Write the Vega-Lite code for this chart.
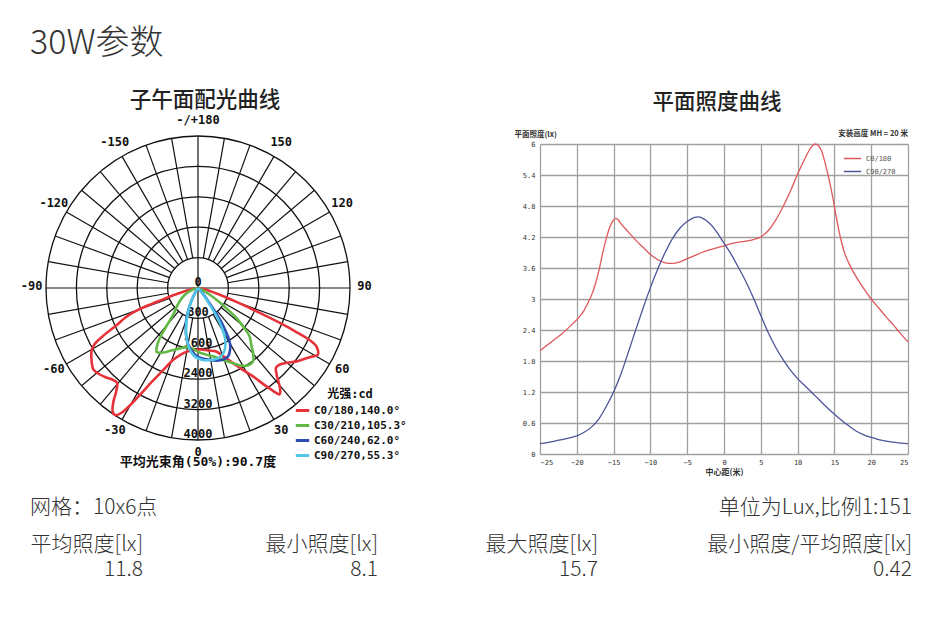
{
  "$schema": "https://vega.github.io/schema/vega-lite/v6.json",
  "background": "white",
  "padding": {"left": 20, "top": 27, "right": 5, "bottom": 5},
  "title": {"text": "30W参数", "anchor": "start", "frame": "group", "font": "Noto Sans CJK SC", "fontSize": 34, "fontWeight": 300, "color": "#333333", "offset": 29},
  "config": {"view": {"stroke": null}, "axis": {"labelOverlap": false}},
  "datasets": {
    "polar": [
      {"s": "C0/180,140.0°", "g": -90, "cd": 0}, {"s": "C0/180,140.0°", "g": -84, "cd": 60}, {"s": "C0/180,140.0°", "g": -80, "cd": 150}, {"s": "C0/180,140.0°", "g": -76, "cd": 380}, {"s": "C0/180,140.0°", "g": -73.5, "cd": 700}, {"s": "C0/180,140.0°", "g": -72, "cd": 950}, {"s": "C0/180,140.0°", "g": -71, "cd": 1300}, {"s": "C0/180,140.0°", "g": -70, "cd": 1650}, {"s": "C0/180,140.0°", "g": -68, "cd": 2050}, {"s": "C0/180,140.0°", "g": -65.5, "cd": 2350}, {"s": "C0/180,140.0°", "g": -63.5, "cd": 2750}, {"s": "C0/180,140.0°", "g": -61.5, "cd": 3100}, {"s": "C0/180,140.0°", "g": -59.5, "cd": 3250}, {"s": "C0/180,140.0°", "g": -56, "cd": 3380}, {"s": "C0/180,140.0°", "g": -52, "cd": 3490}, {"s": "C0/180,140.0°", "g": -49, "cd": 3450}, {"s": "C0/180,140.0°", "g": -46, "cd": 3380}, {"s": "C0/180,140.0°", "g": -43, "cd": 3300}, {"s": "C0/180,140.0°", "g": -40.5, "cd": 3280}, {"s": "C0/180,140.0°", "g": -38.5, "cd": 3450}, {"s": "C0/180,140.0°", "g": -36.5, "cd": 3750}, {"s": "C0/180,140.0°", "g": -34.5, "cd": 3960}, {"s": "C0/180,140.0°", "g": -33, "cd": 3990}, {"s": "C0/180,140.0°", "g": -31.5, "cd": 3850}, {"s": "C0/180,140.0°", "g": -30, "cd": 3550}, {"s": "C0/180,140.0°", "g": -28.5, "cd": 3200}, {"s": "C0/180,140.0°", "g": -26, "cd": 2720}, {"s": "C0/180,140.0°", "g": -23, "cd": 2350}, {"s": "C0/180,140.0°", "g": -19, "cd": 2000}, {"s": "C0/180,140.0°", "g": -15, "cd": 1830}, {"s": "C0/180,140.0°", "g": -10, "cd": 1700}, {"s": "C0/180,140.0°", "g": -5, "cd": 1650}, {"s": "C0/180,140.0°", "g": 0, "cd": 1620}, {"s": "C0/180,140.0°", "g": 5, "cd": 1630}, {"s": "C0/180,140.0°", "g": 10, "cd": 1670}, {"s": "C0/180,140.0°", "g": 16, "cd": 1740}, {"s": "C0/180,140.0°", "g": 20, "cd": 1900}, {"s": "C0/180,140.0°", "g": 25, "cd": 2180}, {"s": "C0/180,140.0°", "g": 29, "cd": 2480}, {"s": "C0/180,140.0°", "g": 32, "cd": 2750}, {"s": "C0/180,140.0°", "g": 34.5, "cd": 3100}, {"s": "C0/180,140.0°", "g": 36.3, "cd": 3380}, {"s": "C0/180,140.0°", "g": 37.5, "cd": 3530}, {"s": "C0/180,140.0°", "g": 38.5, "cd": 3480}, {"s": "C0/180,140.0°", "g": 40, "cd": 3330}, {"s": "C0/180,140.0°", "g": 42, "cd": 3100}, {"s": "C0/180,140.0°", "g": 44.5, "cd": 2930}, {"s": "C0/180,140.0°", "g": 47, "cd": 2950}, {"s": "C0/180,140.0°", "g": 50, "cd": 3060}, {"s": "C0/180,140.0°", "g": 53, "cd": 3220}, {"s": "C0/180,140.0°", "g": 56, "cd": 3350}, {"s": "C0/180,140.0°", "g": 58.5, "cd": 3470}, {"s": "C0/180,140.0°", "g": 60.8, "cd": 3610}, {"s": "C0/180,140.0°", "g": 62.5, "cd": 3560}, {"s": "C0/180,140.0°", "g": 64, "cd": 3450}, {"s": "C0/180,140.0°", "g": 65, "cd": 3250}, {"s": "C0/180,140.0°", "g": 66, "cd": 2800}, {"s": "C0/180,140.0°", "g": 67, "cd": 2300}, {"s": "C0/180,140.0°", "g": 68.5, "cd": 1560}, {"s": "C0/180,140.0°", "g": 70.5, "cd": 1000}, {"s": "C0/180,140.0°", "g": 72.8, "cd": 600}, {"s": "C0/180,140.0°", "g": 76, "cd": 320}, {"s": "C0/180,140.0°", "g": 80, "cd": 150}, {"s": "C0/180,140.0°", "g": 85, "cd": 50}, {"s": "C0/180,140.0°", "g": 90, "cd": 0},
      {"s": "C30/210,105.3°", "g": -90, "cd": 0}, {"s": "C30/210,105.3°", "g": -78, "cd": 60}, {"s": "C30/210,105.3°", "g": -70, "cd": 200}, {"s": "C30/210,105.3°", "g": -65, "cd": 330}, {"s": "C30/210,105.3°", "g": -58, "cd": 500}, {"s": "C30/210,105.3°", "g": -51, "cd": 680}, {"s": "C30/210,105.3°", "g": -47, "cd": 800}, {"s": "C30/210,105.3°", "g": -43, "cd": 950}, {"s": "C30/210,105.3°", "g": -40, "cd": 1250}, {"s": "C30/210,105.3°", "g": -38, "cd": 1560}, {"s": "C30/210,105.3°", "g": -35.5, "cd": 1850}, {"s": "C30/210,105.3°", "g": -33, "cd": 2000}, {"s": "C30/210,105.3°", "g": -31, "cd": 1990}, {"s": "C30/210,105.3°", "g": -28, "cd": 1920}, {"s": "C30/210,105.3°", "g": -24, "cd": 1810}, {"s": "C30/210,105.3°", "g": -20, "cd": 1720}, {"s": "C30/210,105.3°", "g": -15, "cd": 1630}, {"s": "C30/210,105.3°", "g": -10, "cd": 1580}, {"s": "C30/210,105.3°", "g": -5, "cd": 1600}, {"s": "C30/210,105.3°", "g": 0, "cd": 1680}, {"s": "C30/210,105.3°", "g": 5, "cd": 1740}, {"s": "C30/210,105.3°", "g": 10, "cd": 1810}, {"s": "C30/210,105.3°", "g": 15, "cd": 1890}, {"s": "C30/210,105.3°", "g": 20, "cd": 2030}, {"s": "C30/210,105.3°", "g": 24, "cd": 2150}, {"s": "C30/210,105.3°", "g": 28, "cd": 2300}, {"s": "C30/210,105.3°", "g": 31, "cd": 2390}, {"s": "C30/210,105.3°", "g": 34, "cd": 2430}, {"s": "C30/210,105.3°", "g": 37, "cd": 2410}, {"s": "C30/210,105.3°", "g": 40, "cd": 2260}, {"s": "C30/210,105.3°", "g": 43, "cd": 2060}, {"s": "C30/210,105.3°", "g": 47, "cd": 1850}, {"s": "C30/210,105.3°", "g": 50, "cd": 1510}, {"s": "C30/210,105.3°", "g": 52, "cd": 1280}, {"s": "C30/210,105.3°", "g": 54, "cd": 1000}, {"s": "C30/210,105.3°", "g": 56.5, "cd": 690}, {"s": "C30/210,105.3°", "g": 60, "cd": 380}, {"s": "C30/210,105.3°", "g": 65, "cd": 150}, {"s": "C30/210,105.3°", "g": 72, "cd": 40}, {"s": "C30/210,105.3°", "g": 90, "cd": 0},
      {"s": "C60/240,62.0°", "g": -45, "cd": 0}, {"s": "C60/240,62.0°", "g": -35, "cd": 80}, {"s": "C60/240,62.0°", "g": -30, "cd": 200}, {"s": "C60/240,62.0°", "g": -27, "cd": 380}, {"s": "C60/240,62.0°", "g": -24, "cd": 620}, {"s": "C60/240,62.0°", "g": -21, "cd": 850}, {"s": "C60/240,62.0°", "g": -17, "cd": 1100}, {"s": "C60/240,62.0°", "g": -14, "cd": 1290}, {"s": "C60/240,62.0°", "g": -10, "cd": 1500}, {"s": "C60/240,62.0°", "g": -6, "cd": 1650}, {"s": "C60/240,62.0°", "g": -2, "cd": 1770}, {"s": "C60/240,62.0°", "g": 3, "cd": 1850}, {"s": "C60/240,62.0°", "g": 8, "cd": 1900}, {"s": "C60/240,62.0°", "g": 14, "cd": 1970}, {"s": "C60/240,62.0°", "g": 20, "cd": 2000}, {"s": "C60/240,62.0°", "g": 24, "cd": 1960}, {"s": "C60/240,62.0°", "g": 27, "cd": 1850}, {"s": "C60/240,62.0°", "g": 29.5, "cd": 1720}, {"s": "C60/240,62.0°", "g": 31.5, "cd": 1530}, {"s": "C60/240,62.0°", "g": 33, "cd": 1300}, {"s": "C60/240,62.0°", "g": 34.5, "cd": 1080}, {"s": "C60/240,62.0°", "g": 35.5, "cd": 850}, {"s": "C60/240,62.0°", "g": 36.5, "cd": 620}, {"s": "C60/240,62.0°", "g": 38, "cd": 400}, {"s": "C60/240,62.0°", "g": 41, "cd": 180}, {"s": "C60/240,62.0°", "g": 46, "cd": 50}, {"s": "C60/240,62.0°", "g": 55, "cd": 0},
      {"s": "C90/270,55.3°", "g": -40, "cd": 0}, {"s": "C90/270,55.3°", "g": -32, "cd": 100}, {"s": "C90/270,55.3°", "g": -28, "cd": 300}, {"s": "C90/270,55.3°", "g": -25, "cd": 500}, {"s": "C90/270,55.3°", "g": -22, "cd": 720}, {"s": "C90/270,55.3°", "g": -18, "cd": 1000}, {"s": "C90/270,55.3°", "g": -14, "cd": 1280}, {"s": "C90/270,55.3°", "g": -10, "cd": 1520}, {"s": "C90/270,55.3°", "g": -6, "cd": 1700}, {"s": "C90/270,55.3°", "g": -2, "cd": 1820}, {"s": "C90/270,55.3°", "g": 3, "cd": 1890}, {"s": "C90/270,55.3°", "g": 8, "cd": 1920}, {"s": "C90/270,55.3°", "g": 13, "cd": 1930}, {"s": "C90/270,55.3°", "g": 18, "cd": 1900}, {"s": "C90/270,55.3°", "g": 22, "cd": 1820}, {"s": "C90/270,55.3°", "g": 25, "cd": 1700}, {"s": "C90/270,55.3°", "g": 28, "cd": 1530}, {"s": "C90/270,55.3°", "g": 30, "cd": 1330}, {"s": "C90/270,55.3°", "g": 32, "cd": 1100}, {"s": "C90/270,55.3°", "g": 33.5, "cd": 850}, {"s": "C90/270,55.3°", "g": 35, "cd": 580}, {"s": "C90/270,55.3°", "g": 37, "cd": 320}, {"s": "C90/270,55.3°", "g": 40, "cd": 130}, {"s": "C90/270,55.3°", "g": 45, "cd": 0}
    ],
    "lux": [
      {"p": "C0/180", "d": -25, "e": 2.0}, {"p": "C0/180", "d": -24, "e": 2.11}, {"p": "C0/180", "d": -23, "e": 2.22}, {"p": "C0/180", "d": -22, "e": 2.33}, {"p": "C0/180", "d": -21, "e": 2.46}, {"p": "C0/180", "d": -20, "e": 2.6}, {"p": "C0/180", "d": -19, "e": 2.78}, {"p": "C0/180", "d": -18.5, "e": 2.92}, {"p": "C0/180", "d": -18, "e": 3.07}, {"p": "C0/180", "d": -17.5, "e": 3.28}, {"p": "C0/180", "d": -17, "e": 3.55}, {"p": "C0/180", "d": -16.5, "e": 3.88}, {"p": "C0/180", "d": -16, "e": 4.17}, {"p": "C0/180", "d": -15.5, "e": 4.4}, {"p": "C0/180", "d": -15, "e": 4.53}, {"p": "C0/180", "d": -14.7, "e": 4.56}, {"p": "C0/180", "d": -14.3, "e": 4.52}, {"p": "C0/180", "d": -14, "e": 4.46}, {"p": "C0/180", "d": -13, "e": 4.3}, {"p": "C0/180", "d": -12, "e": 4.14}, {"p": "C0/180", "d": -11, "e": 4.0}, {"p": "C0/180", "d": -10, "e": 3.86}, {"p": "C0/180", "d": -9, "e": 3.76}, {"p": "C0/180", "d": -8, "e": 3.7}, {"p": "C0/180", "d": -7, "e": 3.69}, {"p": "C0/180", "d": -6, "e": 3.72}, {"p": "C0/180", "d": -5, "e": 3.78}, {"p": "C0/180", "d": -4, "e": 3.84}, {"p": "C0/180", "d": -3, "e": 3.9}, {"p": "C0/180", "d": -2, "e": 3.95}, {"p": "C0/180", "d": -1, "e": 3.99}, {"p": "C0/180", "d": 0, "e": 4.03}, {"p": "C0/180", "d": 1, "e": 4.07}, {"p": "C0/180", "d": 2, "e": 4.1}, {"p": "C0/180", "d": 3, "e": 4.12}, {"p": "C0/180", "d": 4, "e": 4.15}, {"p": "C0/180", "d": 5, "e": 4.2}, {"p": "C0/180", "d": 6, "e": 4.32}, {"p": "C0/180", "d": 7, "e": 4.52}, {"p": "C0/180", "d": 8, "e": 4.78}, {"p": "C0/180", "d": 9, "e": 5.08}, {"p": "C0/180", "d": 10, "e": 5.42}, {"p": "C0/180", "d": 11, "e": 5.72}, {"p": "C0/180", "d": 11.5, "e": 5.86}, {"p": "C0/180", "d": 12, "e": 5.96}, {"p": "C0/180", "d": 12.4, "e": 6.0}, {"p": "C0/180", "d": 12.8, "e": 5.97}, {"p": "C0/180", "d": 13.3, "e": 5.85}, {"p": "C0/180", "d": 13.8, "e": 5.6}, {"p": "C0/180", "d": 14.3, "e": 5.3}, {"p": "C0/180", "d": 14.8, "e": 4.95}, {"p": "C0/180", "d": 15.3, "e": 4.55}, {"p": "C0/180", "d": 15.8, "e": 4.2}, {"p": "C0/180", "d": 16.3, "e": 3.93}, {"p": "C0/180", "d": 17, "e": 3.68}, {"p": "C0/180", "d": 18, "e": 3.42}, {"p": "C0/180", "d": 19, "e": 3.2}, {"p": "C0/180", "d": 20, "e": 3.0}, {"p": "C0/180", "d": 21, "e": 2.83}, {"p": "C0/180", "d": 22, "e": 2.66}, {"p": "C0/180", "d": 23, "e": 2.5}, {"p": "C0/180", "d": 24, "e": 2.33}, {"p": "C0/180", "d": 25, "e": 2.17},
      {"p": "C90/270", "d": -25, "e": 0.2}, {"p": "C90/270", "d": -24, "e": 0.22}, {"p": "C90/270", "d": -23, "e": 0.25}, {"p": "C90/270", "d": -22, "e": 0.28}, {"p": "C90/270", "d": -21, "e": 0.31}, {"p": "C90/270", "d": -20, "e": 0.35}, {"p": "C90/270", "d": -19, "e": 0.42}, {"p": "C90/270", "d": -18, "e": 0.52}, {"p": "C90/270", "d": -17, "e": 0.68}, {"p": "C90/270", "d": -16, "e": 0.92}, {"p": "C90/270", "d": -15, "e": 1.2}, {"p": "C90/270", "d": -14, "e": 1.55}, {"p": "C90/270", "d": -13, "e": 1.97}, {"p": "C90/270", "d": -12, "e": 2.4}, {"p": "C90/270", "d": -11, "e": 2.82}, {"p": "C90/270", "d": -10, "e": 3.22}, {"p": "C90/270", "d": -9, "e": 3.58}, {"p": "C90/270", "d": -8, "e": 3.9}, {"p": "C90/270", "d": -7, "e": 4.17}, {"p": "C90/270", "d": -6, "e": 4.37}, {"p": "C90/270", "d": -5, "e": 4.5}, {"p": "C90/270", "d": -4, "e": 4.58}, {"p": "C90/270", "d": -3.5, "e": 4.59}, {"p": "C90/270", "d": -3, "e": 4.57}, {"p": "C90/270", "d": -2, "e": 4.47}, {"p": "C90/270", "d": -1, "e": 4.3}, {"p": "C90/270", "d": 0, "e": 4.08}, {"p": "C90/270", "d": 1, "e": 3.86}, {"p": "C90/270", "d": 2, "e": 3.6}, {"p": "C90/270", "d": 3, "e": 3.33}, {"p": "C90/270", "d": 4, "e": 3.02}, {"p": "C90/270", "d": 5, "e": 2.68}, {"p": "C90/270", "d": 6, "e": 2.35}, {"p": "C90/270", "d": 7, "e": 2.07}, {"p": "C90/270", "d": 8, "e": 1.83}, {"p": "C90/270", "d": 9, "e": 1.63}, {"p": "C90/270", "d": 10, "e": 1.46}, {"p": "C90/270", "d": 11, "e": 1.32}, {"p": "C90/270", "d": 12, "e": 1.18}, {"p": "C90/270", "d": 13, "e": 1.04}, {"p": "C90/270", "d": 14, "e": 0.9}, {"p": "C90/270", "d": 15, "e": 0.77}, {"p": "C90/270", "d": 16, "e": 0.65}, {"p": "C90/270", "d": 17, "e": 0.54}, {"p": "C90/270", "d": 18, "e": 0.44}, {"p": "C90/270", "d": 19, "e": 0.37}, {"p": "C90/270", "d": 20, "e": 0.32}, {"p": "C90/270", "d": 21, "e": 0.28}, {"p": "C90/270", "d": 22, "e": 0.25}, {"p": "C90/270", "d": 23, "e": 0.23}, {"p": "C90/270", "d": 24, "e": 0.21}, {"p": "C90/270", "d": 25, "e": 0.2}
    ]
  },
  "bounds": "flush",
  "spacing": 351,
  "resolve": {"scale": {"color": "independent"}, "legend": {"color": "independent"}},
  "vconcat": [
    {
      "bounds": "flush",
      "spacing": 174,
      "resolve": {"scale": {"color": "independent"}, "legend": {"color": "independent"}},
      "hconcat": [
        {
          "width": 336,
          "height": 310,
          "title": {"text": "子午面配光曲线", "font": "Noto Sans CJK SC", "fontSize": 21.5, "fontWeight": 500, "color": "#222222", "offset": 2, "dx": 7},
          "layer": [
            {
              "data": {"values": [{"cd": 800}, {"cd": 1600}, {"cd": 2400}, {"cd": 3200}, {"cd": 4000}]},
              "mark": {"type": "point", "shape": "circle", "filled": false, "stroke": "#111111", "strokeWidth": 1.3, "opacity": 1},
              "encoding": {
                "x": {"datum": 0, "type": "quantitative", "scale": {"domain": [-4421, 4421], "nice": false, "zero": false}, "axis": null},
                "y": {"datum": 0, "type": "quantitative", "scale": {"domain": [-4368, 3789], "nice": false, "zero": false}, "axis": null},
                "size": {"field": "cd", "type": "quantitative", "legend": null, "scale": {"type": "pow", "exponent": 2, "domain": [0, 4000], "range": [0, 92416], "zero": true, "nice": false}}
              }
            },
            {
              "data": {"values": [
                {"a": -170, "r0": 800}, {"a": -160, "r0": 800}, {"a": -150, "r0": 800}, {"a": -140, "r0": 800}, {"a": -130, "r0": 800}, {"a": -120, "r0": 800}, {"a": -110, "r0": 800}, {"a": -100, "r0": 800}, {"a": -90, "r0": 0},
                {"a": -80, "r0": 800}, {"a": -70, "r0": 800}, {"a": -60, "r0": 800}, {"a": -50, "r0": 800}, {"a": -40, "r0": 800}, {"a": -30, "r0": 800}, {"a": -20, "r0": 800}, {"a": -10, "r0": 800}, {"a": 0, "r0": 0},
                {"a": 10, "r0": 800}, {"a": 20, "r0": 800}, {"a": 30, "r0": 800}, {"a": 40, "r0": 800}, {"a": 50, "r0": 800}, {"a": 60, "r0": 800}, {"a": 70, "r0": 800}, {"a": 80, "r0": 800}, {"a": 90, "r0": 0},
                {"a": 100, "r0": 800}, {"a": 110, "r0": 800}, {"a": 120, "r0": 800}, {"a": 130, "r0": 800}, {"a": 140, "r0": 800}, {"a": 150, "r0": 800}, {"a": 160, "r0": 800}, {"a": 170, "r0": 800}, {"a": 180, "r0": 0}
              ]},
              "transform": [
                {"calculate": "datum.r0 * sin(datum.a * PI / 180)", "as": "x1"},
                {"calculate": "-datum.r0 * cos(datum.a * PI / 180)", "as": "y1"},
                {"calculate": "4000 * sin(datum.a * PI / 180)", "as": "x2"},
                {"calculate": "-4000 * cos(datum.a * PI / 180)", "as": "y2"}
              ],
              "mark": {"type": "rule", "color": "#111111", "strokeWidth": 1.2},
              "encoding": {
                "x": {"field": "x1", "type": "quantitative", "axis": null},
                "y": {"field": "y1", "type": "quantitative", "axis": null},
                "x2": {"field": "x2"},
                "y2": {"field": "y2"}
              }
            },
            {
              "data": {"values": [{"cd": 0, "t": "0"}, {"cd": 800, "t": "800"}, {"cd": 1600, "t": "1600"}, {"cd": 2400, "t": "2400"}, {"cd": 3200, "t": "3200"}, {"cd": 4000, "t": "4000"}]},
              "transform": [{"calculate": "-datum.cd", "as": "ny"}],
              "mark": {"type": "text", "align": "center", "baseline": "alphabetic", "dy": -2, "font": "DejaVu Sans Mono", "fontSize": 12, "fontWeight": "bold", "color": "#111111"},
              "encoding": {
                "x": {"datum": 0, "type": "quantitative", "axis": null},
                "y": {"field": "ny", "type": "quantitative", "axis": null},
                "text": {"field": "t"}
              }
            },
            {
              "data": {"values": [
                {"a": 180, "t": "-/+180"}, {"a": 150, "t": "150"}, {"a": 120, "t": "120"}, {"a": 90, "t": "90"}, {"a": 60, "t": "60"}, {"a": 30, "t": "30"},
                {"a": 0, "t": "0"}, {"a": -30, "t": "-30"}, {"a": -60, "t": "-60"}, {"a": -90, "t": "-90"}, {"a": -120, "t": "-120"}, {"a": -150, "t": "-150"}
              ]},
              "transform": [
                {"calculate": "4380 * sin(datum.a * PI / 180)", "as": "lx"},
                {"calculate": "-4380 * cos(datum.a * PI / 180)", "as": "ly"}
              ],
              "mark": {"type": "text", "align": "center", "baseline": "middle", "dy": -2, "font": "DejaVu Sans Mono", "fontSize": 12, "fontWeight": "bold", "color": "#111111"},
              "encoding": {
                "x": {"field": "lx", "type": "quantitative", "axis": null},
                "y": {"field": "ly", "type": "quantitative", "axis": null},
                "text": {"field": "t"}
              }
            },
            {
              "data": {"name": "polar"},
              "transform": [
                {"calculate": "datum.cd * sin(datum.g * PI / 180)", "as": "px"},
                {"calculate": "-datum.cd * cos(datum.g * PI / 180)", "as": "py"}
              ],
              "mark": {"type": "line", "strokeWidth": 2.6, "interpolate": "catmull-rom"},
              "encoding": {
                "x": {"field": "px", "type": "quantitative", "axis": null},
                "y": {"field": "py", "type": "quantitative", "axis": null},
                "order": {"field": "g", "type": "quantitative"},
                "color": {
                  "field": "s", "type": "nominal",
                  "scale": {"domain": ["C0/180,140.0°", "C30/210,105.3°", "C60/240,62.0°", "C90/270,55.3°"], "range": ["#e6333a", "#62b844", "#2d4db3", "#52c6e6"]},
                  "legend": {"orient": "none", "legendX": 264, "legendY": 245, "title": "光强:cd", "titleFont": "DejaVu Sans Mono, Noto Sans CJK SC", "titleFontSize": 12, "titleFontWeight": "bold", "titleColor": "#111111", "titleAnchor": "middle", "titlePadding": 1, "padding": 0, "symbolType": "stroke", "symbolStrokeWidth": 3, "symbolSize": 180, "labelFont": "DejaVu Sans Mono", "labelFontSize": 11, "labelFontWeight": "bold", "labelColor": "#111111", "labelOffset": 3, "rowPadding": -1.5}
                }
              }
            },
            {
              "data": {"values": [{"t": "平均光束角(50%):90.7度"}]},
              "mark": {"type": "text", "align": "center", "baseline": "middle", "font": "DejaVu Sans Mono, Noto Sans CJK SC", "fontSize": 13, "fontWeight": "bold", "color": "#111111"},
              "encoding": {
                "x": {"datum": 0, "type": "quantitative", "axis": null},
                "y": {"datum": -4580, "type": "quantitative", "axis": null},
                "text": {"field": "t"}
              }
            }
          ]
        },
        {
          "width": 368,
          "height": 310,
          "title": {"text": "平面照度曲线", "font": "Noto Sans CJK SC", "fontSize": 21.5, "fontWeight": 500, "color": "#222222", "offset": 17, "dx": -7},
          "layer": [
            {
              "data": {"name": "lux"},
              "mark": {"type": "line", "strokeWidth": 1.3, "interpolate": "monotone"},
              "encoding": {
                "x": {
                  "field": "d", "type": "quantitative",
                  "scale": {"domain": [-25, 25], "nice": false, "zero": false},
                  "axis": {"values": [-25, -20, -15, -10, -5, 0, 5, 10, 15, 20, 25], "format": "d", "labelOverlap": false, "grid": true, "gridColor": "#a0a0a0", "gridWidth": 1.3, "domain": false, "ticks": false, "labelFont": "DejaVu Sans Mono", "labelFontSize": 7, "labelColor": "#333333", "labelPadding": 4, "title": "中心距(米)", "titleFont": "Noto Sans CJK SC", "titleFontSize": 8, "titleFontWeight": "bold", "titleColor": "#333333", "titlePadding": 3}
                },
                "y": {
                  "field": "e", "type": "quantitative",
                  "scale": {"domain": [0, 6], "nice": false, "zero": false},
                  "axis": {"values": [0, 0.6, 1.2, 1.8, 2.4, 3, 3.6, 4.2, 4.8, 5.4, 6], "format": ".2~f", "labelOverlap": false, "grid": true, "gridColor": "#a0a0a0", "gridWidth": 1.3, "domain": false, "ticks": false, "labelFont": "DejaVu Sans Mono", "labelFontSize": 7, "labelColor": "#333333", "labelPadding": 5, "title": "平面照度(lx)", "titleAngle": 0, "titleAlign": "left", "titleBaseline": "middle", "titleX": -26, "titleY": -10, "titleFont": "Noto Sans CJK SC", "titleFontSize": 7.5, "titleFontWeight": "bold", "titleColor": "#333333"}
                },
                "color": {
                  "field": "p", "type": "nominal",
                  "scale": {"domain": ["C0/180", "C90/270"], "range": ["#e0585c", "#4c5598"]},
                  "legend": {"orient": "none", "legendX": 303, "legendY": 5, "title": null, "padding": 0, "symbolType": "stroke", "symbolStrokeWidth": 1.5, "symbolSize": 300, "labelFont": "DejaVu Sans Mono", "labelFontSize": 7, "labelColor": "#555555", "rowPadding": 0}
                }
              }
            },
            {
              "data": {"values": [{"t": "安装高度 MH = 20 米"}]},
              "mark": {"type": "text", "align": "right", "baseline": "middle", "dy": -10, "font": "Noto Sans CJK SC", "fontSize": 7.5, "fontWeight": "bold", "color": "#333333"},
              "encoding": {
                "x": {"datum": 25, "type": "quantitative", "axis": {"values": [-25, -20, -15, -10, -5, 0, 5, 10, 15, 20, 25], "labelOverlap": false}},
                "y": {"datum": 6, "type": "quantitative", "axis": {"values": [0, 0.6, 1.2, 1.8, 2.4, 3, 3.6, 4.2, 4.8, 5.4, 6], "labelOverlap": false}},
                "text": {"field": "t"}
              }
            }
          ]
        }
      ]
    },
    {
      "width": 882,
      "height": 85,
      "layer": [
        {
          "data": {"values": [{"row": 1, "col": 0, "t": "网格：10x6点"}]},
          "mark": {"type": "text", "align": "left", "baseline": "middle", "font": "Noto Sans CJK SC", "fontSize": 21, "fontWeight": 300, "color": "#333333"},
          "encoding": {
            "x": {"field": "col", "type": "quantitative", "scale": {"domain": [0, 1, 2, 3, 4], "range": [0, 113, 348, 568, 882], "nice": false, "zero": false}, "axis": null},
            "y": {"field": "row", "type": "quantitative", "scale": {"domain": [1, 2, 3], "range": [13, 50, 75], "nice": false, "zero": false}, "axis": null},
            "text": {"field": "t"}
          }
        },
        {
          "data": {"values": [
            {"row": 1, "col": 4, "t": "单位为Lux,比例1:151"},
            {"row": 2, "col": 1, "t": "平均照度[lx]"}, {"row": 2, "col": 2, "t": "最小照度[lx]"}, {"row": 2, "col": 3, "t": "最大照度[lx]"}, {"row": 2, "col": 4, "t": "最小照度/平均照度[lx]"},
            {"row": 3, "col": 1, "t": "11.8"}, {"row": 3, "col": 2, "t": "8.1"}, {"row": 3, "col": 3, "t": "15.7"}, {"row": 3, "col": 4, "t": "0.42"}
          ]},
          "mark": {"type": "text", "align": "right", "baseline": "middle", "font": "Noto Sans CJK SC", "fontSize": 21, "fontWeight": 300, "color": "#333333"},
          "encoding": {
            "x": {"field": "col", "type": "quantitative", "axis": null},
            "y": {"field": "row", "type": "quantitative", "axis": null},
            "text": {"field": "t"}
          }
        }
      ]
    }
  ]
}
